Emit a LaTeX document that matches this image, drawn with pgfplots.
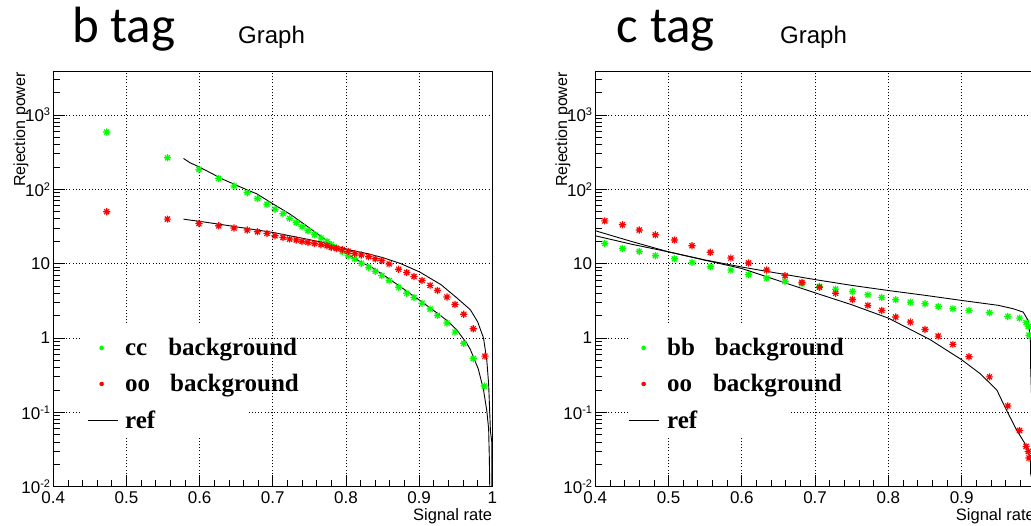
\documentclass[border=0pt]{standalone}
\usepackage{fontspec}
\setmainfont{Liberation Sans}
\newfontfamily\legfont{Liberation Serif}
\newfontfamily\titfont{Carlito}
\usepackage{pgfplots}
\pgfplotsset{compat=1.18}
\definecolor{rgreen}{RGB}{0,255,0}
\definecolor{rred}{RGB}{255,0,0}
\pgfdeclareplotmark{rootstar}{%
  \pgfpathmoveto{\pgfpoint{-\pgfplotmarksize}{0pt}}\pgfpathlineto{\pgfpoint{\pgfplotmarksize}{0pt}}%
  \pgfpathmoveto{\pgfpoint{0pt}{-\pgfplotmarksize}}\pgfpathlineto{\pgfpoint{0pt}{\pgfplotmarksize}}%
  \pgfpathmoveto{\pgfpoint{-0.707\pgfplotmarksize}{-0.707\pgfplotmarksize}}\pgfpathlineto{\pgfpoint{0.707\pgfplotmarksize}{0.707\pgfplotmarksize}}%
  \pgfpathmoveto{\pgfpoint{-0.707\pgfplotmarksize}{0.707\pgfplotmarksize}}\pgfpathlineto{\pgfpoint{0.707\pgfplotmarksize}{-0.707\pgfplotmarksize}}%
  \pgfusepathqstroke}
\newcommand\pw[1]{10\raisebox{6pt}{\fontsize{11}{11}\selectfont #1}}
\newcommand\tlf{\fontsize{17}{17}\selectfont}
\newcommand\lgf{\legfont\bfseries\fontsize{25}{25}\selectfont}
\begin{document}
\begin{tikzpicture}
% ---------------- left panel: b tag ----------------
\begin{axis}[scale only axis, width=439pt, height=415.7pt,
    at={(53.3pt,39.3pt)}, anchor=south west,
    xmin=0.4, xmax=1, ymode=log, ymin=0.01, ymax=3900,
    xtick={0.4,0.5,0.6,0.7,0.8,0.9,1}, xticklabels={0.4,0.5,0.6,0.7,0.8,0.9,1},
    minor x tick num=4,
    ytick={0.01,0.1,1,10,100,1000}, yticklabels={\pw{-2},\pw{-1},1,10,\pw{2},\pw{3}},
    minor ytick={0.02,0.03,0.04,0.05,0.06,0.07,0.08,0.09,0.2,0.3,0.4,0.5,0.6,0.7,0.8,0.9,2,3,4,5,6,7,8,9,20,30,40,50,60,70,80,90,200,300,400,500,600,700,800,900,2000,3000},
    tick pos=left, tick align=inside,
    major tick length=12pt, minor tick length=6.5pt,
    tick style={black, line width=0.8pt},
    grid=major, major grid style={black, line width=0.7pt, dash pattern=on 1pt off 2.2pt},
    axis line style={black, line width=0.9pt},
    xticklabel style={font=\tlf, inner sep=0pt, anchor=north, yshift=-4.7pt},
    yticklabel style={font=\tlf, inner sep=0pt, anchor=east, xshift=-3pt},
    legend cell align=left,
    legend style={draw=none, fill=none, inner sep=0pt, anchor=north west,
      at={(axis description cs:0.0768,0.3618)},
      font=\lgf, row sep=13.2pt, column sep=5pt},
    legend image code/.code={\draw[mark repeat=2,mark phase=2,#1,mark size=2.2pt] plot coordinates {(0pt,0pt)(14pt,0pt)(30pt,0pt)};}]
\fill[white] (axis description cs:0.0654,0.1196) rectangle (axis description cs:0.4435,0.3938);
\addplot[only marks, mark=rootstar, mark size=3.6pt, color=rgreen, line width=1.2pt] coordinates {(0.473,590)(0.556,265)(0.599,185)(0.626,140)(0.647,111)(0.665,90)(0.679,75)(0.692,63)(0.703,54)(0.714,47)(0.723,40.5)(0.732,35.7)(0.740,31.3)(0.748,27.7)(0.757,24.4)(0.766,22.1)(0.774,19.9)(0.780,18.0)(0.787,16.2)(0.795,14.5)(0.803,12.8)(0.812,11.6)(0.821,10.1)(0.831,8.9)(0.840,7.9)(0.849,6.9)(0.859,5.9)(0.872,4.8)(0.883,4.0)(0.893,3.5)(0.904,2.94)(0.915,2.45)(0.925,2.01)(0.938,1.59)(0.949,1.20)(0.961,0.85)(0.974,0.53)(0.989,0.226)};
\addlegendentry{cc\hspace{21pt}background}
\addplot[only marks, mark=rootstar, mark size=3.6pt, color=rred, line width=1.2pt] coordinates {(0.473,50)(0.556,39.7)(0.599,34.6)(0.626,32.3)(0.647,30.1)(0.665,28.3)(0.679,26.8)(0.692,25.5)(0.703,23.7)(0.714,22.5)(0.723,21.4)(0.732,20.8)(0.740,19.9)(0.748,19.3)(0.757,18.7)(0.766,18.0)(0.774,17.4)(0.780,16.5)(0.787,16.0)(0.795,15.4)(0.803,14.6)(0.812,13.7)(0.821,13.1)(0.831,12.4)(0.840,11.6)(0.849,11.0)(0.859,9.9)(0.872,8.4)(0.883,7.6)(0.893,6.7)(0.904,5.94)(0.915,5.1)(0.925,4.36)(0.938,3.55)(0.949,2.82)(0.961,2.08)(0.974,1.33)(0.990,0.57)};
\addlegendentry{oo\hspace{20pt}background}
\addplot[black, line width=0.9pt, mark=none, forget plot] coordinates {(0.578,260)(0.587,227)(0.599,201)(0.632,136)(0.664,99)(0.678,87)(0.701,63)(0.724,46)(0.746,32.3)(0.769,22.1)(0.787,16.5)(0.801,13.5)(0.82,10.6)(0.837,8.7)(0.8605,6.1)(0.881,4.4)(0.901,3.2)(0.925,2.15)(0.938,1.72)(0.951,1.3)(0.965,0.85)(0.97,0.7)(0.981,0.38)(0.988,0.2)(0.9925,0.105)(0.995,0.06)(0.996,0.023)(0.9965,0.01)};
\addplot[black, line width=0.9pt, mark=none, forget plot] coordinates {(0.578,39.7)(0.587,38.5)(0.599,37.2)(0.632,33.3)(0.701,26.2)(0.769,19.3)(0.806,15.2)(0.83,13.6)(0.851,12.0)(0.875,10.0)(0.901,7.7)(0.93,5.2)(0.951,3.5)(0.97,2.4)(0.98,1.65)(0.988,1.0)(0.9925,0.5)(0.995,0.24)(0.9965,0.1)(0.9975,0.055)(0.9993,0.04)(0.9993,0.01)};
\addlegendimage{black, line width=0.9pt, mark=none}
\addlegendentry{ref}
\end{axis}
% ---------------- right panel: c tag ----------------
\begin{axis}[scale only axis, width=439.6pt, height=415.7pt,
    at={(595.3pt,39.3pt)}, anchor=south west,
    xmin=0.4, xmax=1, ymode=log, ymin=0.01, ymax=3900,
    xtick={0.4,0.5,0.6,0.7,0.8,0.9,1}, xticklabels={0.4,0.5,0.6,0.7,0.8,0.9,1},
    minor x tick num=4,
    ytick={0.01,0.1,1,10,100,1000}, yticklabels={\pw{-2},\pw{-1},1,10,\pw{2},\pw{3}},
    minor ytick={0.02,0.03,0.04,0.05,0.06,0.07,0.08,0.09,0.2,0.3,0.4,0.5,0.6,0.7,0.8,0.9,2,3,4,5,6,7,8,9,20,30,40,50,60,70,80,90,200,300,400,500,600,700,800,900,2000,3000},
    tick pos=left, tick align=inside,
    major tick length=12pt, minor tick length=6.5pt,
    tick style={black, line width=0.8pt},
    grid=major, major grid style={black, line width=0.7pt, dash pattern=on 1pt off 2.2pt},
    axis line style={black, line width=0.9pt},
    xticklabel style={font=\tlf, inner sep=0pt, anchor=north, yshift=-4.7pt},
    yticklabel style={font=\tlf, inner sep=0pt, anchor=east, xshift=-3pt},
    legend cell align=left,
    legend style={draw=none, fill=none, inner sep=0pt, anchor=north west,
      at={(axis description cs:0.0744,0.3618)},
      font=\lgf, row sep=13.2pt, column sep=6pt},
    legend image code/.code={\draw[mark repeat=2,mark phase=2,#1,mark size=2.2pt] plot coordinates {(0pt,0pt)(15pt,0pt)(30pt,0pt)};}]
\fill[white] (axis description cs:0.079,0.1196) rectangle (axis description cs:0.443,0.3938);
\addplot[only marks, mark=rootstar, mark size=3.6pt, color=rgreen, line width=1.2pt] coordinates {(0.413,18.7)(0.437,16.0)(0.460,14.6)(0.482,12.8)(0.508,11.6)(0.532,10.4)(0.557,9.1)(0.585,8.2)(0.609,7.1)(0.634,6.4)(0.659,5.8)(0.682,5.35)(0.706,4.92)(0.728,4.53)(0.751,4.22)(0.772,3.81)(0.791,3.5)(0.810,3.27)(0.830,3.03)(0.850,2.89)(0.868,2.66)(0.888,2.48)(0.910,2.35)(0.938,2.19)(0.963,1.95)(0.979,1.85)(0.988,1.61)(0.991,1.43)(0.992,1.09)};
\addlegendentry{bb\hspace{20pt}background}
\addplot[only marks, mark=rootstar, mark size=3.6pt, color=rred, line width=1.2pt] coordinates {(0.413,37.6)(0.437,33.3)(0.460,28.3)(0.482,24.4)(0.508,20.8)(0.532,17.4)(0.557,14.2)(0.585,11.9)(0.609,10.2)(0.634,8.2)(0.659,6.9)(0.682,5.6)(0.706,4.82)(0.728,4.0)(0.751,3.3)(0.772,2.74)(0.791,2.35)(0.810,1.91)(0.830,1.64)(0.850,1.30)(0.868,1.06)(0.888,0.82)(0.910,0.56)(0.938,0.30)(0.963,0.122)(0.979,0.057)(0.988,0.0348)(0.991,0.0298)(0.992,0.0243)};
\addlegendentry{oo\hspace{21pt}background}
\addplot[black, line width=0.9pt, mark=none, forget plot] coordinates {(0.4,27.7)(0.45,19.8)(0.5,14.4)(0.55,11.1)(0.6,8.6)(0.65,5.9)(0.7,4.05)(0.75,2.8)(0.8,1.85)(0.857,0.95)(0.9,0.51)(0.925,0.333)(0.948,0.2)(0.961,0.108)(0.975,0.058)(0.986,0.0386)(0.992,0.027)(0.9942,0.026)(0.9942,0.015)(0.998,0.01)};
\addplot[black, line width=0.9pt, mark=none, forget plot] coordinates {(0.4,23.7)(0.45,18.2)(0.5,14.4)(0.55,11.2)(0.6,9.0)(0.65,7.4)(0.7,6.1)(0.75,5.1)(0.8,4.35)(0.85,3.75)(0.9,3.2)(0.95,2.75)(0.97,2.48)(0.984,2.23)(0.9907,1.73)(0.993,1.15)(0.9942,0.8)(0.9942,0.4)(0.997,0.05)(0.999,0.01)};
\addlegendimage{black, line width=0.9pt, mark=none}
\addlegendentry{ref}
\end{axis}
% ---------------- texts ----------------
\node[anchor=base west, inner sep=0pt, font=\titfont\fontsize{51}{51}\selectfont] at (72pt,483.3pt) {b tag};
\node[anchor=base west, inner sep=0pt, font=\fontsize{24}{24}\selectfont] at (238pt,482pt) {Graph};
\node[anchor=base west, inner sep=0pt, font=\titfont\fontsize{51}{51}\selectfont] at (616.7pt,483.3pt) {c tag};
\node[anchor=base west, inner sep=0pt, font=\fontsize{24}{24}\selectfont] at (780pt,482pt) {Graph};
\node[rotate=90, anchor=base east, inner sep=0pt, font=\fontsize{16}{16}\selectfont] at (25pt,454pt) {Rejection power};
\node[rotate=90, anchor=base east, inner sep=0pt, font=\fontsize{16}{16}\selectfont] at (567pt,454pt) {Rejection power};
\node[anchor=base east, inner sep=0pt, font=\fontsize{16.5}{16.5}\selectfont] at (492.3pt,5pt) {Signal rate};
\node[anchor=base east, inner sep=0pt, font=\fontsize{16.5}{16.5}\selectfont] at (1035pt,5pt) {Signal rate};
\pgfresetboundingbox
\useasboundingbox (0pt,0pt) rectangle (1031pt,526pt);
\end{tikzpicture}
\end{document}
